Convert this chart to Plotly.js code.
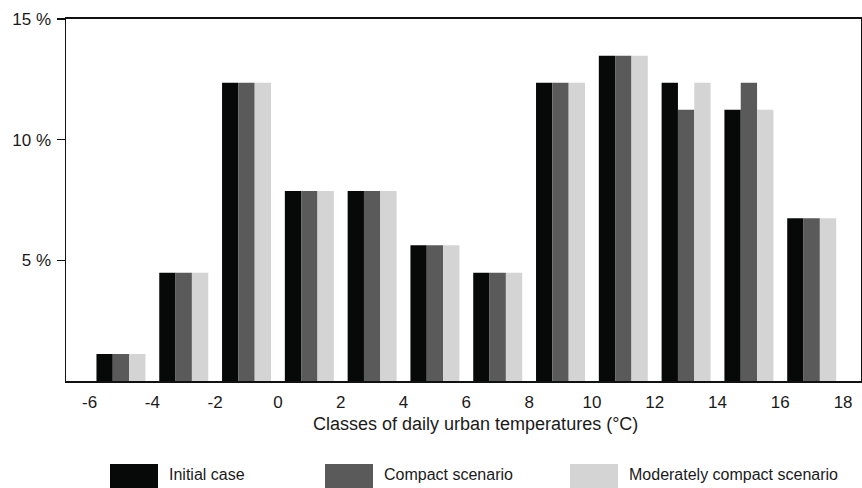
<!DOCTYPE html>
<html>
<head>
<meta charset="utf-8">
<script src="https://cdn.plot.ly/plotly-3.0.1.min.js"></script>
<style>html,body{margin:0;padding:0;background:#fff;}#chart{width:862px;height:488px;}</style>
</head>
<body>
<div id="chart"></div>
<script>
// Class centres (°C) for each 2-degree temperature class
const classCentres = [-5, -3, -1, 1, 3, 5, 7, 9, 11, 13, 15, 17];
// Share of days per class (%)
const initialCase = [1.12, 4.49, 12.36, 7.87, 7.87, 5.62, 4.49, 12.36, 13.48, 12.36, 11.24, 6.74];
const compactScenario = [1.12, 4.49, 12.36, 7.87, 7.87, 5.62, 4.49, 12.36, 13.48, 11.24, 12.36, 6.74];
const moderatelyCompact = [1.12, 4.49, 12.36, 7.87, 7.87, 5.62, 4.49, 12.36, 13.48, 12.36, 11.24, 6.74];
const seriesNames = ["Initial case", "Compact scenario", "Moderately compact scenario"];
const xTickVals = [-6, -4, -2, 0, 2, 4, 6, 8, 10, 12, 14, 16, 18];
const xTickText = ["-6", "-4", "-2", "0", "2", "4", "6", "8", "10", "12", "14", "16", "18"];
const yTickVals = [5, 10, 15];
const yTickText = ["5 %", "10 %", "15 %"];
const xTitle = "Classes of daily urban temperatures (°C)";

const colors = ["#070909", "#5a5a5a", "#d4d4d4"];
const FONT = "Liberation Sans, Arial, sans-serif";

const seriesValues = [initialCase, compactScenario, moderatelyCompact];
const traces = seriesValues.map((vals, i) => ({
  type: "bar",
  x: classCentres,
  y: vals,
  name: seriesNames[i],
  marker: {color: colors[i], line: {width: 0}},
  hoverinfo: "x+y+name"
}));

// plot-area geometry helpers for legend placement (paper coords)
const L = 66, R = 1, T = 19, B = 107, W = 862, H = 488;
const pw = W - L - R, ph = H - T - B;
const px = v => (v - L) / pw;
const py = v => (H - B - v) / ph;

const legendX = [[110, 158, 167], [325, 373, 382], [570, 618, 627]];
const shapes = [];
const annotations = [];
legendX.forEach((lx, i) => {
  shapes.push({type: "rect", xref: "paper", yref: "paper",
    x0: px(lx[0]), x1: px(lx[1]), y0: py(488), y1: py(464),
    fillcolor: colors[i], line: {width: 0}});
  annotations.push({xref: "paper", yref: "paper", x: px(lx[2]), y: py(475),
    xanchor: "left", yanchor: "middle", showarrow: false, text: seriesNames[i],
    font: {family: FONT, size: 16, color: "#1a1a1a"}});
});
annotations.push({xref: "paper", yref: "paper", x: px(475), y: py(424),
  xanchor: "center", yanchor: "middle", showarrow: false, text: xTitle,
  font: {family: FONT, size: 18, color: "#1a1a1a"}});

const layout = {
  width: W, height: H,
  margin: {l: L, r: R, t: T, b: B, pad: 0},
  paper_bgcolor: "#fff", plot_bgcolor: "#fff",
  font: {family: FONT, size: 17, color: "#1a1a1a"},
  showlegend: false,
  barmode: "group", bargap: 0.22, bargroupgap: 0,
  xaxis: {
    range: [-6.75, 18.57], tickvals: xTickVals, ticktext: xTickText, ticks: "",
    showgrid: false, zeroline: false,
    showline: true, linecolor: "#111", linewidth: 2, mirror: true,
    ticklabelstandoff: 5,
    tickfont: {family: FONT, size: 17, color: "#1a1a1a"}
  },
  yaxis: {
    range: [0, 15], tickvals: yTickVals, ticktext: yTickText,
    ticks: "outside", ticklen: 8, tickwidth: 1.5, tickcolor: "#111",
    showgrid: false, zeroline: false,
    showline: true, linecolor: "#111", linewidth: 1.5, mirror: true,
    ticklabelstandoff: 2,
    tickfont: {family: FONT, size: 17, color: "#1a1a1a"}
  },
  shapes: shapes,
  annotations: annotations
};

Plotly.newPlot("chart", traces, layout, {staticPlot: true, displayModeBar: false});
</script>
</body>
</html>
